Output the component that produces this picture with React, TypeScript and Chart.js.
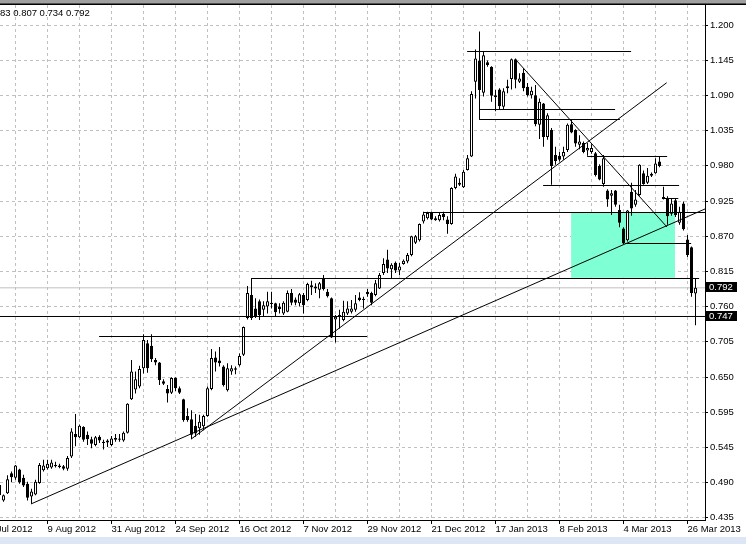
import React, { useEffect, useRef } from 'react';
import { Chart, registerables } from 'chart.js';

Chart.register(...registerables);

// ---------- data ----------
const firstBar = -1;
const opens = [
  0.470, 0.462, 0.473, 0.504, 0.497, 0.510, 0.497, 0.488, 0.468, 0.471,
  0.489, 0.509, 0.512, 0.513, 0.517, 0.516, 0.515, 0.511, 0.530, 0.565,
  0.560, 0.576, 0.564, 0.557, 0.548, 0.561, 0.553, 0.555, 0.548, 0.556,
  0.558, 0.555, 0.567, 0.619, 0.634, 0.639, 0.667, 0.706, 0.702, 0.680,
  0.676, 0.647, 0.635, 0.629, 0.652, 0.636, 0.619, 0.593, 0.588, 0.578,
  0.574, 0.577, 0.593, 0.635, 0.684, 0.679, 0.670, 0.633, 0.662, 0.665,
  0.672, 0.688, 0.745, 0.781, 0.760, 0.771, 0.758, 0.763, 0.769, 0.768,
  0.763, 0.752, 0.755, 0.784, 0.774, 0.768, 0.781, 0.773, 0.793, 0.791,
  0.789, 0.807, 0.786, 0.776, 0.743, 0.748, 0.742, 0.752, 0.755, 0.758,
  0.777, 0.773, 0.786, 0.784, 0.781, 0.791, 0.815, 0.836, 0.821, 0.831,
  0.819, 0.829, 0.833, 0.843, 0.862, 0.866, 0.895, 0.900, 0.908, 0.900,
  0.897, 0.907, 0.898, 0.891, 0.947, 0.955, 0.948, 0.975, 0.996, 1.112,
  1.145, 1.095, 1.142, 1.135, 1.088, 1.100, 1.073, 1.102, 1.116, 1.147,
  1.112, 1.126, 1.104, 1.091, 1.091, 1.045, 1.078, 1.026, 1.037, 0.998,
  0.997, 0.996, 1.006, 1.046, 1.037, 1.014, 1.017, 1.005, 1.003, 1.001,
  0.981, 0.953, 0.943, 0.935, 0.943, 0.913, 0.884, 0.866, 0.941, 0.921,
  0.936, 0.970, 0.955, 0.966, 0.970, 0.988, 0.933, 0.931, 0.907, 0.928,
  0.893, 0.923, 0.867, 0.855, 0.783,
];
const highs = [
  0.489, 0.471, 0.501, 0.507, 0.517, 0.511, 0.502, 0.491, 0.480, 0.494,
  0.520, 0.525, 0.525, 0.525, 0.522, 0.519, 0.517, 0.531, 0.574, 0.596,
  0.580, 0.577, 0.569, 0.561, 0.562, 0.563, 0.556, 0.557, 0.562, 0.565,
  0.565, 0.569, 0.613, 0.680, 0.662, 0.671, 0.720, 0.711, 0.720, 0.683,
  0.677, 0.650, 0.641, 0.653, 0.653, 0.639, 0.620, 0.605, 0.602, 0.596,
  0.595, 0.595, 0.639, 0.697, 0.693, 0.700, 0.672, 0.675, 0.672, 0.670,
  0.690, 0.732, 0.795, 0.807, 0.776, 0.774, 0.771, 0.786, 0.786, 0.769,
  0.768, 0.771, 0.788, 0.790, 0.777, 0.784, 0.784, 0.800, 0.803, 0.799,
  0.801, 0.812, 0.790, 0.777, 0.750, 0.758, 0.772, 0.771, 0.773, 0.781,
  0.785, 0.778, 0.790, 0.786, 0.804, 0.815, 0.838, 0.851, 0.830, 0.833,
  0.831, 0.836, 0.846, 0.873, 0.874, 0.892, 0.910, 0.910, 0.910, 0.903,
  0.909, 0.910, 0.903, 0.948, 0.969, 0.962, 0.975, 0.998, 1.097, 1.162,
  1.190, 1.159, 1.145, 1.136, 1.099, 1.102, 1.102, 1.115, 1.148, 1.148,
  1.125, 1.133, 1.110, 1.104, 1.107, 1.086, 1.079, 1.063, 1.040, 1.011,
  1.003, 1.011, 1.047, 1.053, 1.038, 1.029, 1.019, 1.017, 1.015, 1.003,
  0.984, 0.998, 0.945, 0.944, 0.944, 0.921, 0.886, 0.913, 0.955, 0.944,
  0.984, 0.974, 0.978, 0.971, 0.993, 0.996, 0.949, 0.934, 0.931, 0.931,
  0.918, 0.926, 0.874, 0.856, 0.807,
];
const lows = [
  0.466, 0.460, 0.472, 0.490, 0.494, 0.488, 0.483, 0.462, 0.457, 0.470,
  0.488, 0.507, 0.510, 0.511, 0.513, 0.512, 0.509, 0.508, 0.528, 0.546,
  0.559, 0.553, 0.548, 0.543, 0.546, 0.551, 0.541, 0.545, 0.546, 0.553,
  0.553, 0.553, 0.566, 0.618, 0.628, 0.636, 0.659, 0.660, 0.677, 0.672,
  0.641, 0.641, 0.614, 0.627, 0.632, 0.627, 0.584, 0.584, 0.557, 0.561,
  0.564, 0.571, 0.592, 0.633, 0.662, 0.670, 0.639, 0.631, 0.657, 0.658,
  0.670, 0.686, 0.743, 0.742, 0.745, 0.742, 0.747, 0.752, 0.760, 0.747,
  0.752, 0.750, 0.754, 0.765, 0.765, 0.763, 0.752, 0.771, 0.781, 0.784,
  0.776, 0.788, 0.777, 0.714, 0.707, 0.729, 0.740, 0.750, 0.752, 0.755,
  0.771, 0.760, 0.778, 0.765, 0.779, 0.790, 0.812, 0.815, 0.807, 0.815,
  0.812, 0.828, 0.830, 0.841, 0.860, 0.864, 0.892, 0.898, 0.897, 0.896,
  0.895, 0.897, 0.876, 0.890, 0.945, 0.950, 0.947, 0.974, 0.995, 1.086,
  1.054, 1.089, 1.135, 1.081, 1.066, 1.068, 1.069, 1.094, 1.100, 1.102,
  1.110, 1.097, 1.089, 1.086, 1.043, 1.023, 1.011, 1.022, 0.952, 0.983,
  0.988, 0.991, 1.003, 1.032, 1.011, 1.007, 1.001, 0.997, 1.000, 0.965,
  0.959, 0.949, 0.918, 0.905, 0.918, 0.886, 0.860, 0.864, 0.904, 0.918,
  0.935, 0.952, 0.953, 0.964, 0.969, 0.979, 0.929, 0.890, 0.904, 0.902,
  0.890, 0.881, 0.840, 0.778, 0.734,
];
const closes = [
  0.486, 0.470, 0.495, 0.498, 0.516, 0.490, 0.485, 0.466, 0.476, 0.491,
  0.517, 0.516, 0.519, 0.521, 0.515, 0.514, 0.511, 0.528, 0.569, 0.560,
  0.578, 0.556, 0.557, 0.550, 0.560, 0.555, 0.551, 0.552, 0.558, 0.559,
  0.556, 0.567, 0.612, 0.662, 0.650, 0.666, 0.711, 0.667, 0.681, 0.676,
  0.649, 0.643, 0.628, 0.652, 0.636, 0.629, 0.587, 0.587, 0.564, 0.566,
  0.584, 0.593, 0.636, 0.683, 0.676, 0.675, 0.641, 0.667, 0.667, 0.667,
  0.686, 0.731, 0.784, 0.745, 0.747, 0.750, 0.765, 0.771, 0.767, 0.754,
  0.759, 0.769, 0.784, 0.769, 0.769, 0.782, 0.765, 0.798, 0.796, 0.794,
  0.799, 0.790, 0.779, 0.715, 0.747, 0.750, 0.755, 0.760, 0.760, 0.768,
  0.773, 0.775, 0.782, 0.769, 0.799, 0.812, 0.829, 0.822, 0.828, 0.819,
  0.825, 0.834, 0.843, 0.872, 0.872, 0.891, 0.906, 0.908, 0.898, 0.897,
  0.905, 0.902, 0.891, 0.947, 0.965, 0.952, 0.972, 0.993, 1.093, 1.148,
  1.099, 1.153, 1.138, 1.090, 1.091, 1.074, 1.097, 1.105, 1.147, 1.115,
  1.117, 1.102, 1.091, 1.098, 1.046, 1.081, 1.026, 1.060, 0.981, 0.989,
  0.991, 1.003, 1.045, 1.033, 1.016, 1.019, 1.003, 1.009, 1.009, 0.967,
  0.960, 0.993, 0.929, 0.939, 0.921, 0.893, 0.861, 0.912, 0.915, 0.929,
  0.983, 0.953, 0.966, 0.969, 0.985, 0.981, 0.930, 0.903, 0.923, 0.905,
  0.910, 0.883, 0.843, 0.784, 0.792,
];

const yTickLabels = ['1.200', '1.145', '1.090', '1.035', '0.980', '0.925', '0.870', '0.815', '0.760', '0.705', '0.650', '0.595', '0.545', '0.490', '0.435'];
const yTickTop = 1.2;
const yTickBottom = 0.435;

const dateLabels = ['18 Jul 2012', '9 Aug 2012', '31 Aug 2012', '24 Sep 2012', '16 Oct 2012', '7 Nov 2012', '29 Nov 2012', '21 Dec 2012', '17 Jan 2013', '8 Feb 2013', '4 Mar 2013', '26 Mar 2013'];
const firstDateBar = -5;
const barsPerDateLabel = 16;

// trend lines: [bar, price] start and end
const trendFrom = [[6.875, 0.4565], [47.05, 0.5578], [128.125, 1.1457]];
const trendTo = [[175.375, 0.9144], [165.8, 1.1104], [165.875, 0.8864]];

// horizontal levels
const levelPrice = [1.15886, 1.06883, 1.0533, 0.99587, 0.95085, 0.90893, 0.86081, 0.80648, 0.74749, 0.71644, 0.93067];
const levelFrom = [115.9, 118.9, 118.9, 145.9, 134.9, 104.9, 155.4, 61.9, -2, 23.9, 164.8];
const levelTo = [156.9, 152.9, 154.1, 165.9, 168.9, 176, 171.9, 173.9, 176, 90.9, 168.7];

// shaded zone
const zoneBars = [141.9, 167.9];
const zonePrices = [0.90893, 0.8078];

const bidPrice = 0.792;
const markedPrices = [0.792, 0.747];

// ---------- layout ----------
const W = 746;
const H = 544;
const FONT = "'Liberation Sans', Arial, sans-serif";
const PX_PER_BAR = 4;
const PLOT_RIGHT = 705;
const PLOT_TOP = 5;
const PLOT_BOTTOM = 520;
const Y_TOP_PX = 25;
const Y_STEP_PX = 35.2;
const UNIT = (yTickTop - yTickBottom) / (Y_STEP_PX * (yTickLabels.length - 1));
const X_MIN = -3.5 / PX_PER_BAR;
const X_MAX = X_MIN + PLOT_RIGHT / PX_PER_BAR;
const Y_MAX = yTickTop + (Y_TOP_PX - PLOT_TOP) * UNIT;
const Y_MIN = yTickTop - (PLOT_BOTTOM - Y_TOP_PX) * UNIT;

const yTickValues = yTickLabels.map((_, k) => yTickTop - (k * (yTickTop - yTickBottom)) / (yTickLabels.length - 1));
const xTickValues: number[] = [];
for (let v = firstDateBar; v <= X_MAX; v += barsPerDateLabel / 2) xTickValues.push(v);

const chromePlugin = {
  id: 'chrome',
  afterDraw(chart: any) {
    const { ctx } = chart;
    const ys = chart.scales.y;
    ctx.save();
    ctx.fillStyle = '#a0a0a0';
    ctx.fillRect(0, 0, W, 3);
    ctx.fillStyle = '#505050';
    ctx.fillRect(0, 3, W, 1);
    ctx.fillStyle = '#000000';
    ctx.fillRect(0, 4, W, 1);
    ctx.fillStyle = '#dce6f4';
    ctx.fillRect(0, 537, W, H - 537);

    ctx.font = `9.5px ${FONT}`;
    ctx.textBaseline = 'middle';
    ctx.textAlign = 'left';
    ctx.fillStyle = '#000000';
    const last = opens.length - 1;
    const header = [opens[last], highs[last], lows[last], closes[last]].map((v) => v.toFixed(3)).join(' ');
    ctx.fillText(header, -ctx.measureText('0.7').width, 13);

    markedPrices.forEach((p) => {
      const py = Math.round(ys.getPixelForValue(p));
      ctx.fillStyle = '#000000';
      ctx.fillRect(706, py - 6, 31, 10);
      ctx.fillStyle = '#ffffff';
      ctx.fillText(p.toFixed(3), 709, py - 1);
    });
    ctx.restore();
  },
};

export default function App() {
  const ref = useRef<HTMLCanvasElement | null>(null);

  useEffect(() => {
    const canvas = ref.current;
    if (!canvas) return;

    const bodyData = opens.map((o, i) => ({ x: firstBar + i, y: [o, closes[i]] }));
    const wickData = highs.map((h, i) => ({ x: firstBar + i, y: [lows[i], h] }));
    const bodyFill = opens.map((o, i) => (closes[i] >= o ? '#ffffff' : '#000000'));

    const lineBase = { type: 'line', borderColor: '#000000', borderWidth: 1, pointRadius: 0, fill: false, tension: 0 };

    const levelSets = levelPrice.map((p, i) => ({
      ...lineBase,
      data: [{ x: levelFrom[i], y: p }, { x: levelTo[i], y: p }],
    }));
    const trendSets = trendFrom.map((a, i) => ({
      ...lineBase,
      data: [{ x: a[0], y: a[1] }, { x: trendTo[i][0], y: trendTo[i][1] }],
    }));

    const datasets: any[] = [
      ...levelSets,
      ...trendSets,
      {
        type: 'bar', data: bodyData, backgroundColor: bodyFill, borderColor: '#000000',
        borderWidth: 1, borderSkipped: false, barThickness: 3, grouped: false, inflateAmount: 0,
      },
      {
        type: 'bar', data: wickData, backgroundColor: '#000000', borderWidth: 0,
        barThickness: 1, grouped: false, inflateAmount: 0,
      },
      {
        ...lineBase, borderColor: '#c0c0c0',
        data: [{ x: -2, y: bidPrice }, { x: 176, y: bidPrice }],
      },
      {
        type: 'line', borderColor: 'rgba(0,0,0,0)', borderWidth: 1, pointRadius: 0, tension: 0,
        backgroundColor: '#7fffd4', fill: { value: zonePrices[1] },
        data: [{ x: zoneBars[0], y: zonePrices[0] }, { x: zoneBars[1], y: zonePrices[0] }],
      },
    ];

    const tickFont = { family: FONT, size: 9.5 };

    const chart = new Chart(canvas, {
      type: 'bar',
      data: { datasets },
      options: {
        animation: false,
        responsive: false,
        events: [],
        layout: { padding: { top: PLOT_TOP, left: 0, right: 0, bottom: 0 }, autoPadding: false },
        plugins: { legend: { display: false }, tooltip: { enabled: false } },
        scales: {
          x: {
            type: 'linear',
            min: X_MIN,
            max: X_MAX,
            offset: false,
            bounds: 'data',
            afterBuildTicks: (s: any) => {
              s.ticks = xTickValues.map((v) => ({ value: v }));
            },
            afterFit: (s: any) => {
              s.height = H - PLOT_BOTTOM;
              s.paddingLeft = 0;
              s.paddingRight = 0;
            },
            ticks: {
              autoSkip: false,
              maxRotation: 0,
              minRotation: 0,
              align: 'start',
              padding: 0,
              color: '#000000',
              font: tickFont,
              callback: (_v: any, i: number) => (i % 2 === 0 ? dateLabels[i / 2] : ''),
            },
            grid: {
              offset: false,
              color: '#c0c0c0',
              lineWidth: 1,
              drawTicks: true,
              tickLength: 4,
              tickWidth: 1,
              tickColor: (c: any) => (c.index % 2 === 0 ? '#000000' : 'rgba(0,0,0,0)'),
            },
            border: { display: true, color: '#000000', width: 1, dash: [3, 3] },
          },
          y: {
            type: 'linear',
            position: 'right',
            min: Y_MIN,
            max: Y_MAX,
            bounds: 'data',
            beginAtZero: false,
            afterBuildTicks: (s: any) => {
              s.ticks = yTickValues.map((v) => ({ value: v }));
            },
            afterFit: (s: any) => {
              s.width = W - PLOT_RIGHT;
              s.paddingTop = 0;
              s.paddingBottom = 0;
            },
            ticks: {
              autoSkip: false,
              padding: 2,
              color: '#000000',
              font: tickFont,
              callback: (_v: any, i: number) => yTickLabels[i],
            },
            grid: {
              color: '#c0c0c0',
              lineWidth: 1,
              drawTicks: true,
              tickLength: 3,
              tickWidth: 1,
              tickColor: '#000000',
            },
            border: { display: true, color: '#000000', width: 1, dash: [3, 3] },
          },
        },
      } as any,
      plugins: [chromePlugin],
    } as any);

    return () => chart.destroy();
  }, []);

  return (
    <div style={{ position: 'absolute', left: 0, top: 0, width: W, height: H, background: '#ffffff' }}>
      <canvas ref={ref} width={W} height={H} style={{ display: 'block' }} />
    </div>
  );
}
